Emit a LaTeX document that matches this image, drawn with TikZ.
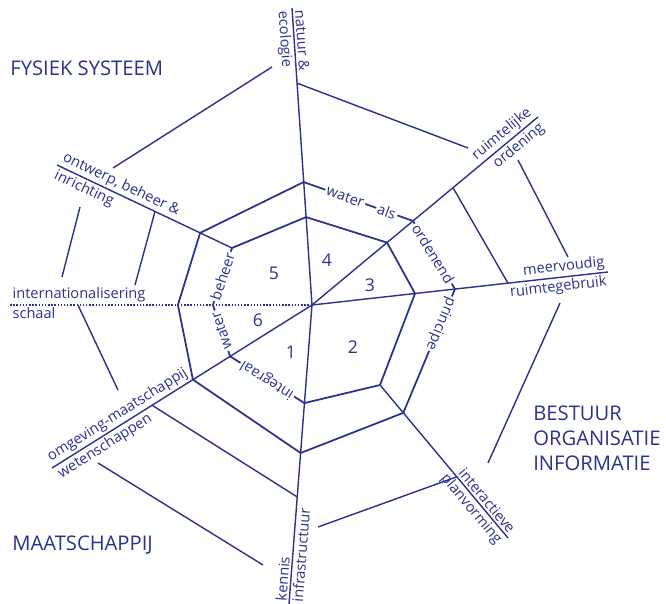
\documentclass[tikz,border=0pt]{standalone}
\usepackage{fontspec}
\setmainfont{Open Sans}
\usetikzlibrary{calc}
\definecolor{webblue}{RGB}{42,50,140}

\begin{document}
\begin{tikzpicture}[
    x=0.02cm, y=-0.02cm,
    web/.style={draw=webblue, line width=0.8pt},
    poly/.style={draw=webblue, line width=1pt, line join=round},
    lbl/.style={text=webblue, font=\fontsize{8.3}{9}\selectfont, inner sep=1.3pt},
    edgetxt/.style={lbl, fill=white, sloped, allow upside down, inner sep=1pt},
    num/.style={text=webblue, font=\fontsize{10}{12}\selectfont},
    corner/.style={text=webblue, font=\fontsize{11.5}{14.2}\selectfont, align=left, anchor=west, inner sep=0pt}
]
\useasboundingbox (0,0) rectangle (666,604);

\coordinate (ctr) at (312,305);
\coordinate (endT) at (292,8);
\coordinate (endUR) at (538,117);
\coordinate (endR) at (608,272);
\coordinate (endLR) at (508,538);
\coordinate (endB) at (289,604);
\coordinate (endLL) at (52,468);
\coordinate (endL) at (10,305);
\coordinate (endUL) at (57,165);

\coordinate (inT) at ($(ctr)!0.296!(endT)$);
\coordinate (inUR) at ($(ctr)!0.332!(endUR)$);
\coordinate (inR) at ($(ctr)!0.348!(endR)$);
\coordinate (inLR) at (380,385);
\coordinate (inB) at ($(ctr)!0.328!(endB)$);
\coordinate (inLL) at ($(ctr)!0.315!(endLL)$);
\coordinate (inL) at ($(ctr)!0.328!(endL)$);
\coordinate (inUL) at (232,248);

\coordinate (outT) at ($(ctr)!0.414!(endT)$);
\coordinate (outUR) at ($(ctr)!0.447!(endUR)$);
\coordinate (outR) at ($(ctr)!0.483!(endR)$);
\coordinate (outLR) at ($(inLR)!0.182!(endLR)$);
\coordinate (outB) at ($(ctr)!0.495!(endB)$);
\coordinate (outLL) at ($(ctr)!0.458!(endLL)$);
\coordinate (outL) at ($(ctr)!0.444!(endL)$);
\coordinate (outUL) at ($(inUL)!0.182!(endUL)$);

\coordinate (ring1a) at (272,67);
\coordinate (ring1b) at (113,168);
\coordinate (ring2a) at ($(ctr)!0.747!(endT)$);
\coordinate (ring2b) at (468,148);
\coordinate (ring3a) at ($(ctr)!0.624!(endUR)$);
\coordinate (ring3b) at ($(ctr)!0.662!(endR)$);
\coordinate (ring4a) at (518,160);
\coordinate (ring4b) at (568,257);
\coordinate (ring5a) at (560,303);
\coordinate (ring5b) at (488,463);
\coordinate (ring6a) at (318,527);
\coordinate (ring6b) at ($(inLR)!0.6!(endLR)$);
\coordinate (ring7a) at ($(ctr)!0.615!(endLL)$);
\coordinate (ring7b) at ($(ctr)!0.642!(endB)$);
\coordinate (ring8a) at (98,463);
\coordinate (ring8b) at (263,565);
\coordinate (ring9a) at ($(ctr)!0.775!(endL)$);
\coordinate (ring9b) at (118,390);
\coordinate (ring10a) at ($(inUL)!0.44!(endUL)$);
\coordinate (ring10b) at (135,285);
\coordinate (ring11a) at (80,207);
\coordinate (ring11b) at (62,277);

\draw[web] (ctr) -- (endT);
\draw[web] (ctr) -- (endUR);
\draw[web] (ctr) -- (endR);
\draw[web] (ctr) -- (endB);
\draw[web] (ctr) -- (endLL);
\draw[web, densely dotted] (ctr) -- (endL);
\draw[web] (inUL) -- (endUL);
\draw[web] (inLR) -- (endLR);

\draw[poly] (inT) -- (inUR) -- (inR) -- (inLR) -- (inB) -- (inLL) -- (inL) -- (inUL) -- cycle;
\draw[poly] (outT) -- (outUR) -- (outR) -- (outLR) -- (outB) -- (outLL) -- (outL) -- (outUL) -- cycle;

\draw[web] (ring1a) -- (ring1b);
\draw[web] (ring2a) -- (ring2b);
\draw[web] (ring3a) -- (ring3b);
\draw[web] (ring4a) -- (ring4b);
\draw[web] (ring5a) -- (ring5b);
\draw[web] (ring6a) -- (ring6b);
\draw[web] (ring7a) -- (ring7b);
\draw[web] (ring8a) -- (ring8b);
\draw[web] (ring9a) -- (ring9b);
\draw[web] (ring10a) -- (ring10b);
\draw[web] (ring11a) -- (ring11b);

\path (outT) -- (outUR) node[edgetxt, pos=0.38] (water) {water} node[edgetxt, pos=0.76] (als) {als};
\path (outUR) -- (outR) node[edgetxt, pos=0.48] (ordenend) {ordenend};
\path (outR) -- (outLR) node[edgetxt, pos=0.28] (principe) {principe};
\path (inB) -- (inLL) node[edgetxt, midway] (integraal) {integraal};
\path (inLL) -- (inL) node[edgetxt, midway] (waterin) {water};
\path (inL) -- (inUL) node[edgetxt, midway] (beheer) {beheer};

\node[lbl, rotate=-86, anchor=south west] (natuur) at (endT) {natuur \&};
\node[lbl, rotate=-86, anchor=north west] (ecologie) at (endT) {ecologie};
\node[lbl, rotate=39.75, anchor=south east] (ruimtelijke) at (endUR) {ruimtelijke};
\node[lbl, rotate=39.75, anchor=north east] (ordening) at (endUR) {ordening};
\node[lbl, rotate=6.4, anchor=south east] (meervoudig) at (endR) {meervoudig};
\node[lbl, rotate=6.4, anchor=north east] (ruimtegebruik) at (endR) {ruimtegebruik};
\node[lbl, rotate=-50.1, anchor=south east] (interactieve) at (endLR) {interactieve};
\node[lbl, rotate=-50.1, anchor=north east] (planvorming) at (endLR) {planvorming};
\node[lbl, rotate=85.6, anchor=south west] (kennis) at (endB) {kennis};
\node[lbl, rotate=85.6, anchor=north west] (infra) at (endB) {infrastructuur};
\node[lbl, rotate=32.1, anchor=south west] (omgeving) at (endLL) {omgeving-maatschappij};
\node[lbl, rotate=32.1, anchor=north west] (wetenschappen) at (endLL) {wetenschappen};
\node[lbl, anchor=south west] (internat) at (endL) {internationalisering};
\node[lbl, anchor=north west] (schaal) at (endL) {schaal};
\node[lbl, rotate=-25.4, anchor=south west] (ontwerp) at (endUL) {ontwerp, beheer \&};
\node[lbl, rotate=-25.4, anchor=north west] (inrichting) at (endUL) {inrichting};

\node[num] (n1) at (291,352) {1};
\node[num] (n2) at (353,347) {2};
\node[num] (n3) at (370,285) {3};
\node[num] (n4) at (327,260) {4};
\node[num] (n5) at (274,273) {5};
\node[num] (n6) at (258,320) {6};

\node[corner] (fysiek) at (10,68) {FYSIEK SYSTEEM};
\node[corner] (bestuur) at (533,438) {BESTUUR\\ORGANISATIE\\INFORMATIE};
\node[corner] (maatsch) at (12,545) {MAATSCHAPPIJ};
\end{tikzpicture}
\end{document}
